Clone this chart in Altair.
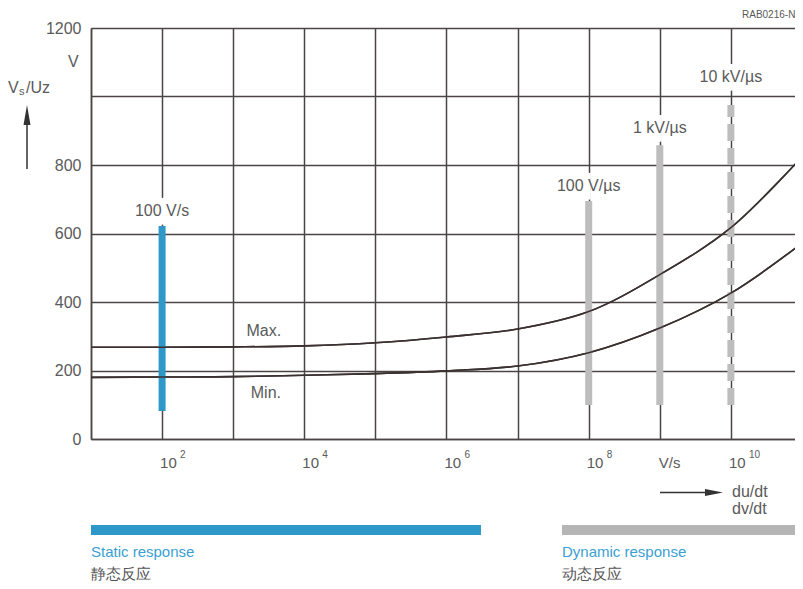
import altair as alt
import pandas as pd

# ---------------- data ----------------
decades = [1e1, 1e2, 1e3, 1e4, 1e5, 1e6, 1e7, 1e8, 1e9, 1e10, 1e11]
v_max = [268, 268, 269, 272, 281, 298, 321, 372, 480, 617, 824]
v_min = [180, 181, 182, 186, 191, 199, 213, 252, 324, 426, 572]

bar_rate = [1e2, 1e8, 1e9, 1e10]
bar_low = [82, 99, 99, 99]
bar_high = [622, 695, 858, 975]
bar_kind = ["static", "dynamic", "dynamic", "dynamic-dashed"]
bar_text = ["100 V/s", "100 V/µs", "1 kV/µs", "10 kV/µs"]
bar_text_v = [666, 739, 908, 1057]

tick_dec = [1e2, 1e4, 1e6, 1e8, 1e10]
tick_exp = ["2", "4", "6", "8", "10"]
unit_rate = [1e9]
unit_text = ["V/s"]

y_ticks = [0, 200, 400, 600, 800, 1000, 1200]

curve_names = ["Max.", "Min."]
curve_label_x = [10 ** 3.43, 10 ** 3.46]
curve_label_v = [315, 134]

static_range = [1e1, 10 ** 6.485]
dynamic_range = [10 ** 7.624, 1e11]

# ---------------- styles ----------------
GRID = "#4b4444"
BLUE = "#2e98c8"
BLUE_TXT = "#3a9fd2"
GRAY_BAR = "#bdbdbd"
TXT = "#5a5a5a"
CURVE = "#3b3131"
FONT = "Liberation Sans"

# the plot runs 711 px wide; the page only shows 704 of it (as in the reference,
# whose right frame sits at the window edge)
xs = alt.Scale(type="log", domain=[1e1, 1e11], nice=False, range=[0, 711])
ys = alt.Scale(domain=[0, 1200], nice=False, zero=False)

curves = pd.DataFrame(
    {"rate": decades * 2, "v": v_max + v_min,
     "series": ["Max"] * len(decades) + ["Min"] * len(decades)}
)
bars = pd.DataFrame({"rate": bar_rate, "low": bar_low, "high": bar_high,
                     "kind": bar_kind, "text": bar_text, "tv": bar_text_v})
ticks = pd.DataFrame({"rate": tick_dec, "exp": tick_exp})
units = pd.DataFrame({"rate": unit_rate, "text": unit_text})
clabels = pd.DataFrame({"rate": curve_label_x, "v": curve_label_v, "text": curve_names})
bands = pd.DataFrame({"a": [static_range[0], dynamic_range[0]],
                      "b": [static_range[1], dynamic_range[1]],
                      "kind": ["static", "dynamic"]})

x_axis = alt.Axis(values=decades, grid=True, labels=False, ticks=False, title=None,
                  gridColor=GRID, gridWidth=1.5, gridOpacity=1,
                  domainColor=GRID, domainWidth=1.5)
y_axis = alt.Axis(values=y_ticks, grid=True, ticks=False, title=None, format="d",
                  labelExpr="datum.value == 1000 ? '' : datum.label",
                  labelFontSize=16, labelColor=TXT, labelFont=FONT, labelPadding=10,
                  gridColor=GRID, gridWidth=1.5, gridOpacity=1,
                  domainColor=GRID, domainWidth=1.5)

curve_layer = alt.Chart(curves).mark_line(
    color=CURVE, strokeWidth=1.6, interpolate="catmull-rom"
).encode(
    x=alt.X("rate:Q", scale=xs, axis=x_axis),
    y=alt.Y("v:Q", scale=ys, axis=y_axis),
    detail="series:N",
)

mask_layer = alt.Chart(bars).transform_calculate(
    mlo="max(datum.high, datum.tv - 40)", mhi="datum.tv + 38"
).mark_rule(color="white", strokeWidth=4).encode(
    x=alt.X("rate:Q", scale=xs), y=alt.Y("mlo:Q", scale=ys), y2="mhi:Q"
)

static_bar = alt.Chart(bars).transform_filter("datum.kind == 'static'").mark_rule(
    color=BLUE, strokeWidth=7
).encode(x=alt.X("rate:Q", scale=xs), y=alt.Y("low:Q", scale=ys), y2="high:Q")

dyn_bar = alt.Chart(bars).transform_filter("datum.kind == 'dynamic'").mark_rule(
    color=GRAY_BAR, strokeWidth=7
).encode(x=alt.X("rate:Q", scale=xs), y=alt.Y("low:Q", scale=ys), y2="high:Q")

dash_bar = alt.Chart(bars).transform_filter("datum.kind == 'dynamic-dashed'").mark_rule(
    color=GRAY_BAR, strokeWidth=7, strokeDash=[17, 7]
).encode(x=alt.X("rate:Q", scale=xs), y=alt.Y("low:Q", scale=ys), y2="high:Q")

bar_labels = alt.Chart(bars).mark_text(
    font=FONT, fontSize=16, color=TXT, align="center", baseline="middle"
).encode(x=alt.X("rate:Q", scale=xs), y=alt.Y("tv:Q", scale=ys), text="text:N")

curve_labels = alt.Chart(clabels).mark_text(
    font=FONT, fontSize=16, color=TXT, align="center", baseline="middle"
).encode(x=alt.X("rate:Q", scale=xs), y=alt.Y("v:Q", scale=ys), text="text:N")

tick_base = alt.Chart(ticks).transform_calculate(t="'10'").mark_text(
    font=FONT, fontSize=15, color=TXT, align="left", baseline="middle", dx=-2
).encode(x=alt.X("rate:Q", scale=xs), y=alt.value(435), text="t:N")

tick_sup = alt.Chart(ticks).mark_text(
    font=FONT, fontSize=10, color=TXT, align="left", baseline="middle", dx=18
).encode(x=alt.X("rate:Q", scale=xs), y=alt.value(427), text="exp:N")

unit_lbl = alt.Chart(units).mark_text(
    font=FONT, fontSize=15, color=TXT, align="left", baseline="middle", dx=-1
).encode(x=alt.X("rate:Q", scale=xs), y=alt.value(435), text="text:N")

band_static = alt.Chart(bands).transform_filter("datum.kind == 'static'").mark_rule(
    color=BLUE, strokeWidth=10
).encode(x=alt.X("a:Q", scale=xs), x2="b:Q", y=alt.value(502))

band_dyn = alt.Chart(bands).transform_filter("datum.kind == 'dynamic'").mark_rule(
    color="#b5b5b5", strokeWidth=10
).encode(x=alt.X("a:Q", scale=xs), x2="b:Q", y=alt.value(502))


def ptext(txt, x, y, size=16, color=TXT, align="left"):
    return alt.Chart(pd.DataFrame({"t": [txt]})).mark_text(
        font=FONT, fontSize=size, color=color, align=align, baseline="middle"
    ).encode(x=alt.value(x), y=alt.value(y), text="t:N")


annot = [
    ptext("Static response", 0, 524, 15, BLUE_TXT),
    ptext("静态反应", 0, 546, 15, "#555555"),
    ptext("Dynamic response", 471, 524, 15, BLUE_TXT),
    ptext("动态反应", 471, 546, 15, "#555555"),
    ptext("du/dt", 641, 464, 16),
    ptext("dv/dt", 641, 481, 16),
    ptext("RAB0216-N", 651, -13, 10),
    ptext("V", -23, 34, 16, align="left"),
    ptext("V", -83, 60, 16),
    ptext("s", -72, 64, 11),
    ptext("/Uz", -65, 60, 16),
]

one = pd.DataFrame({"k": [1]})
arrow_bottom = alt.Chart(one).mark_rule(color="#333333", strokeWidth=1.5).encode(
    x=alt.value(569), x2=alt.value(622), y=alt.value(464.5)
)
arrow_bottom_head = alt.Chart(one).mark_point(
    shape="M1,0L-1,-0.4L-1,0.4Z", filled=True, color="#333333", opacity=1, size=324
).encode(x=alt.value(623), y=alt.value(464.5))
arrow_left = alt.Chart(one).mark_rule(color="#333333", strokeWidth=1.5).encode(
    x=alt.value(-64), y=alt.value(141), y2=alt.value(90)
)
arrow_left_head = alt.Chart(one).mark_point(
    shape="M0,-1L0.35,1L-0.35,1Z", filled=True, color="#333333", opacity=1, size=400
).encode(x=alt.value(-64), y=alt.value(87))

chart = alt.layer(
    curve_layer, mask_layer, static_bar, dyn_bar, dash_bar, curve_layer,
    bar_labels, curve_labels, tick_base, tick_sup, unit_lbl,
    band_static, band_dyn, arrow_bottom, arrow_bottom_head, arrow_left, arrow_left_head,
    *annot
).properties(
    width=704, height=411,
    autosize=alt.AutoSizeParams(type="none"),
    padding={"left": 83, "top": 20, "right": 0, "bottom": 142},
    background="white",
).configure_view(stroke=None)

chart.save("out.html", embed_options={"renderer": "svg", "actions": False})
